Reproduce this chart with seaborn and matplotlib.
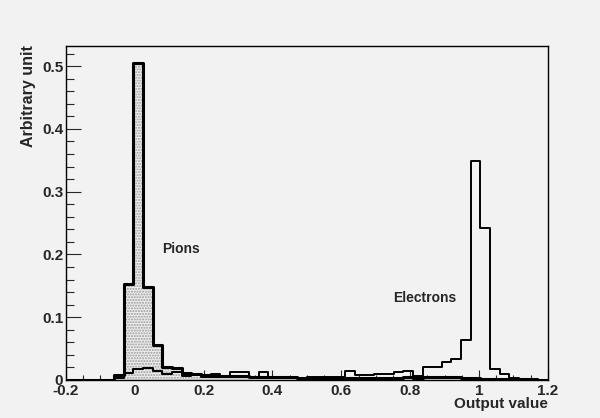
import numpy as np
import pandas as pd
import matplotlib
matplotlib.use("Agg")
import matplotlib.pyplot as plt
from matplotlib.ticker import MultipleLocator
import seaborn as sns

# 50 bins between -0.2 and 1.2
bin_edges = list(np.round(np.linspace(-0.2, 1.2, 51), 4))
bin_centers = [round((a + b) / 2, 4) for a, b in zip(bin_edges[:-1], bin_edges[1:])]

pions = [0, 0, 0, 0, 0, 0.008, 0.153, 0.505, 0.148, 0.056,
         0.021, 0.019, 0.011, 0.010, 0.008, 0.007, 0.007, 0.006, 0.006, 0.005,
         0.005, 0.004, 0.004, 0.004, 0.003, 0.003, 0.003, 0.003, 0.003, 0.003,
         0.003, 0.003, 0.003, 0.003, 0.003, 0.004, 0.003, 0.004, 0.005, 0.005,
         0.004, 0.003, 0.003, 0.002, 0.001, 0.001, 0.001, 0.001, 0.0, 0.0]

electrons = [0, 0, 0, 0, 0, 0.003, 0.011, 0.017, 0.019, 0.014,
             0.009, 0.012, 0.006, 0.010, 0.004, 0.010, 0.005, 0.012, 0.012, 0.004,
             0.012, 0.004, 0.004, 0.003, 0.003, 0.004, 0.004, 0.005, 0.005, 0.015,
             0.008, 0.008, 0.009, 0.009, 0.012, 0.015, 0.006, 0.020, 0.021, 0.029,
             0.034, 0.064, 0.349, 0.242, 0.018, 0.010, 0.003, 0.001, 0.001, 0.0]

df = pd.DataFrame({"x": bin_centers, "pions": pions, "electrons": electrons})

bg = "#f2f2f2"
sns.set_theme(style="white")
plt.rcParams["font.family"] = ["Liberation Sans", "DejaVu Sans"]
plt.rcParams["font.weight"] = "bold"
plt.rcParams["hatch.linewidth"] = 1.0

fig, ax = plt.subplots(figsize=(6, 4.18), dpi=100)
fig.patch.set_facecolor(bg)
ax.set_facecolor(bg)
fig.subplots_adjust(left=0.11, right=0.913, top=0.89, bottom=0.091)

# pion fill with dotted pattern
sns.histplot(data=df, x="x", weights="pions", bins=bin_edges, element="step",
             fill=True, ax=ax, facecolor="#eeeeee", edgecolor="#9a9a9a",
             linewidth=0, alpha=1, hatch="......")
# pion outline
sns.histplot(data=df, x="x", weights="pions", bins=bin_edges, element="step",
             fill=False, ax=ax, color="black", linewidth=2.2)
# electrons
sns.histplot(data=df, x="x", weights="electrons", bins=bin_edges, element="step",
             fill=False, ax=ax, color="black", linewidth=1.4)

ax.set_xlim(-0.2, 1.2)
ax.set_ylim(0, 0.532)

ax.xaxis.set_minor_locator(MultipleLocator(0.05))
ax.yaxis.set_minor_locator(MultipleLocator(0.02))
ax.set_xticks([-0.2, 0, 0.2, 0.4, 0.6, 0.8, 1, 1.2])
ax.set_xticklabels(["-0.2", "0", "0.2", "0.4", "0.6", "0.8", "1", "1.2"])
ax.set_yticks([0, 0.1, 0.2, 0.3, 0.4, 0.5])
ax.set_yticklabels(["0", "0.1", "0.2", "0.3", "0.4", "0.5"])

ax.tick_params(axis="x", which="major", direction="in", length=7.2, width=0.8,
               labelsize=11, pad=3, bottom=True, top=False)
ax.tick_params(axis="x", which="minor", direction="in", length=3.6, width=0.8,
               bottom=True, top=False)
ax.tick_params(axis="y", which="major", direction="in", length=10.6, width=0.8,
               labelsize=11, pad=2, left=True, right=False)
ax.tick_params(axis="y", which="minor", direction="in", length=5.8, width=0.8,
               left=True, right=False)

for s in ax.spines.values():
    s.set_color("black")
    s.set_linewidth(1.0)

ax.set_xlabel("")
ax.set_ylabel("")
fig.text(0.913, 0.033, "Output value", ha="right", va="center",
         fontsize=11, fontweight="bold")
fig.text(0.047, 0.893, "Arbitrary unit", ha="center", va="top", rotation=90,
         fontsize=11.5, fontweight="bold")

ax.text(0.079, 0.209, "Pions", fontsize=10, fontweight="bold", va="center")
ax.text(0.75, 0.131, "Electrons", fontsize=10, fontweight="bold", va="center")

plt.savefig("out.png", dpi=100, facecolor=bg)
